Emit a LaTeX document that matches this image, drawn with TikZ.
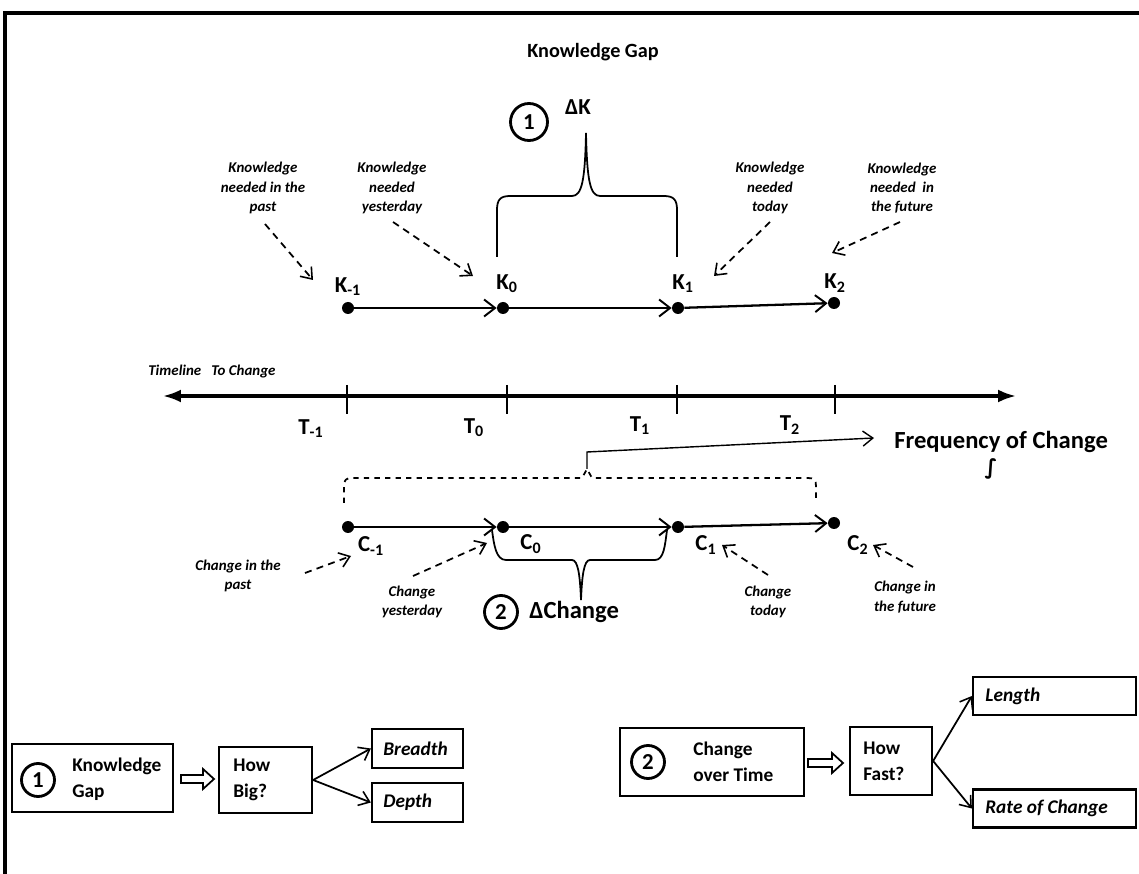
\documentclass[tikz,border=0pt]{standalone}
\usepackage{fontspec}
\setmainfont{Carlito}
\newfontfamily\symfont{DejaVu Sans}
\usetikzlibrary{arrows.meta,calc}
\begin{document}
\begin{tikzpicture}[x=0.02cm,y=-0.02cm,
  dot/.style={circle,fill=black,inner sep=0pt,minimum size=0.24cm},
  lbl/.style={font=\bfseries\fontsize{13}{14}\selectfont,inner sep=0pt},
  note/.style={font=\bfseries\itshape\fontsize{8.5}{11}\selectfont,align=center,inner sep=0pt},
  link/.style={line width=1.3pt,-{Straight Barb[length=2.2mm,width=3.4mm,line width=1.1pt]}},
  hint/.style={line width=1pt,dash pattern=on 4pt off 3pt,-{Straight Barb[length=2mm,width=3mm,line width=0.9pt]}},
  bracepath/.style={line width=1pt},
  numc/.style={circle,draw,line width=1.6pt,minimum size=0.74cm,inner sep=0pt,font=\bfseries\fontsize{13}{14}\selectfont},
  boxnode/.style={draw,line width=1.3pt,inner sep=0pt},
  boxtext/.style={font=\bfseries\fontsize{11}{15}\selectfont,align=left,anchor=west,inner sep=0pt},
  leaftext/.style={font=\bfseries\itshape\fontsize{11}{13}\selectfont,anchor=west,inner sep=0pt},
  thinarrow/.style={line width=1pt,-{Straight Barb[length=2mm,width=3mm,line width=0.9pt]}},
  hollow/.style={line width=1pt,fill=white}]

\useasboundingbox (0,0) rectangle (1139,874);

% outer frame (top and left edges)
\draw[line width=2.4pt] (5,874) -- (5,13) -- (1139,13);

% ---------- knowledge gap ----------
\node[font=\bfseries\fontsize{11.5}{13}\selectfont] (kgap) at (593,52) {Knowledge Gap};
\node[font=\bfseries\fontsize{13}{14}\selectfont] (dk) at (578,107) {ΔK};
\node[numc] (c1top) at (529,122) {1};

% knowledge points
\node[dot] (km1) at (348,308) {};
\node[dot] (k0)  at (503,308) {};
\node[dot] (k1)  at (678,308) {};
\node[dot] (k2)  at (834,303) {};
\draw[link] (km1) -- (k0);
\draw[link] (k0) -- (k1);
\draw[link] (k1) -- (k2);

\node[lbl] (lkm1) at (348,287) {K\textsubscript{-1}};
\node[lbl] (lk0)  at (507,284) {K\textsubscript{0}};
\node[lbl] (lk1)  at (683,284) {K\textsubscript{1}};
\node[lbl] (lk2)  at (835,283) {K\textsubscript{2}};

% brace over K0..K1
\draw[bracepath] (497,257) -- (497,210) .. controls (497,200) and (500,196) .. (510,196)
  -- (572,196) .. controls (582,196) and (585,180) .. (586,133)
  .. controls (587,180) and (590,196) .. (600,196)
  -- (664,196) .. controls (674,196) and (677,200) .. (677,210) -- (677,257);

% knowledge notes
\node[note] (nk1) at (263,188) {Knowledge\\needed in the\\past};
\node[note] (nk2) at (392,188) {Knowledge\\needed\\yesterday};
\node[note] (nk3) at (770,188) {Knowledge\\needed\\today};
\node[note] (nk4) at (902,188) {Knowledge\\needed\ \ in\\the future};
\coordinate (a1s) at (265,224); \coordinate (a1e) at (313,280);
\coordinate (a2s) at (393,222); \coordinate (a2e) at (473,276);
\coordinate (a3s) at (770,222); \coordinate (a3e) at (714,276);
\coordinate (a4s) at (900,222); \coordinate (a4e) at (832,253);
\draw[hint] (a1s) -- (a1e);
\draw[hint] (a2s) -- (a2e);
\draw[hint] (a3s) -- (a3e);
\draw[hint] (a4s) -- (a4e);

% ---------- timeline ----------
\node[font=\bfseries\itshape\fontsize{8.5}{10}\selectfont,anchor=west,inner sep=0pt] (tlabel) at (148,372) {Timeline\ \ \ To Change};
\coordinate (tl) at (163,396);
\coordinate (tr) at (1016,396);
\draw[line width=1.8pt,{Latex[length=3.6mm,width=2.6mm]}-{Latex[length=3.6mm,width=2.6mm]}] (tl) -- (tr);
\foreach \x in {347,507,677,835}{
  \draw[line width=1pt] (\x,385) -- (\x,414);
}
\node[lbl] (tm1) at (311,429) {T\textsubscript{-1}};
\node[lbl] (t0)  at (474,428) {T\textsubscript{0}};
\node[lbl] (t1)  at (640,426) {T\textsubscript{1}};
\node[lbl] (t2)  at (790,425) {T\textsubscript{2}};

% frequency of change
\node[font=\bfseries\fontsize{14}{16}\selectfont,anchor=west,inner sep=0pt] (freq) at (894,442) {Frequency of Change};
\node[font=\symfont\bfseries\fontsize{12}{14}\selectfont,inner sep=0pt] (integ) at (991,469) {∫};
\coordinate (ftip) at (587,469);
\coordinate (fbend) at (587,452);
\coordinate (fend) at (874,438);
\draw[line width=0.8pt,-{Straight Barb[length=2mm,width=3mm,line width=0.8pt]}] (ftip) -- (fbend) -- (fend);

% dashed brace over C-1..C2
\draw[bracepath,dashed] (344,503) -- (344,486) .. controls (344,480) and (346,478) .. (352,478)
  -- (582,478) -- (587,469) -- (592,478)
  -- (808,478) .. controls (814,478) and (816,480) .. (816,486) -- (816,503);

% ---------- change points ----------
\node[dot] (cm1) at (348,527) {};
\node[dot] (c0)  at (503,527) {};
\node[dot] (c1)  at (678,527) {};
\node[dot] (c2)  at (834,523) {};
\draw[link] (cm1) -- (c0);
\draw[link] (c0) -- (c1);
\draw[link] (c1) -- (c2);

\node[lbl] (lcm1) at (371,546) {C\textsubscript{-1}};
\node[lbl] (lc0)  at (531,544) {C\textsubscript{0}};
\node[lbl] (lc1)  at (706,545) {C\textsubscript{1}};
\node[lbl] (lc2)  at (858,545) {C\textsubscript{2}};

% brace under C0..C1
\draw[bracepath] (492,530) .. controls (494,545) and (496,560) .. (506,560)
  -- (572,560) .. controls (578,560) and (580,575) .. (581,600)
  .. controls (582,575) and (584,560) .. (590,560)
  -- (655,560) .. controls (664,560) and (665,545) .. (667,530);

\node[numc,minimum size=0.66cm] (c2num) at (501,612) {2};
\node[font=\bfseries\fontsize{14}{16}\selectfont,anchor=west,inner sep=0pt] (dchange) at (529,612) {ΔChange};

% change notes
\node[note] (nc1) at (238,576) {Change in the\\past};
\node[note] (nc2) at (412,602) {Change\\yesterday};
\node[note] (nc3) at (768,602) {Change\\today};
\node[note] (nc4) at (905,597) {Change in\\the future};
\coordinate (b1s) at (305,573); \coordinate (b1e) at (351,556);
\coordinate (b2s) at (413,576); \coordinate (b2e) at (487,543);
\coordinate (b3s) at (768,575); \coordinate (b3e) at (722,545);
\coordinate (b4s) at (913,567); \coordinate (b4e) at (873,545);
\draw[hint] (b1s) -- (b1e);
\draw[hint] (b2s) -- (b2e);
\draw[hint] (b3s) -- (b3e);
\draw[hint] (b4s) -- (b4e);

% ---------- bottom summary: knowledge gap ----------
\node[boxnode,minimum width=3.22cm,minimum height=1.36cm] (kbox) at (92.5,778) {};
\node[numc,minimum size=0.66cm] (kbnum) at (38,780) {1};
\node[boxtext] (kbtext) at (72,779) {Knowledge\\Gap};
\coordinate (h1) at (181,779);
\draw[hollow] (h1) ++(0,-4) -- ++(22,0) -- ++(0,-6) -- ++(11,10) -- ++(-11,10) -- ++(0,-6) -- ++(-22,0) -- cycle;
\node[boxnode,minimum width=1.86cm,minimum height=1.32cm] (big) at (265.5,780) {};
\node[boxtext] (bigtext) at (233,780) {How\\Big?};
\node[boxnode,minimum width=1.82cm,minimum height=0.78cm] (breadth) at (417.5,748.5) {};
\node[leaftext] at (383,748.5) {Breadth};
\node[boxnode,minimum width=1.82cm,minimum height=0.78cm] (depth) at (417.5,802.5) {};
\node[leaftext] at (383,802.5) {Depth};
\draw[thinarrow] (big.east) -- (breadth.west);
\draw[thinarrow] (big.east) -- (depth.west);

% ---------- bottom summary: change over time ----------
\node[boxnode,minimum width=3.68cm,minimum height=1.36cm] (cbox) at (712,762) {};
\node[numc,minimum size=0.66cm] (cbnum) at (648,762) {2};
\node[boxtext] (cbtext) at (693,762) {Change\\over Time};
\coordinate (h2) at (808,763);
\draw[hollow] (h2) ++(0,-4) -- ++(24,0) -- ++(0,-6) -- ++(11,10) -- ++(-11,10) -- ++(0,-6) -- ++(-24,0) -- cycle;
\node[boxnode,minimum width=1.64cm,minimum height=1.36cm] (fast) at (891,761) {};
\node[boxtext] (fasttext) at (863,761) {How\\Fast?};
\node[boxnode,minimum width=3.26cm,minimum height=0.76cm] (length) at (1054.5,696) {};
\node[leaftext] at (985,696) {Length};
\node[boxnode,minimum width=3.26cm,minimum height=0.76cm] (rate) at (1054.5,808.5) {};
\node[leaftext] at (985,808.5) {Rate of Change};
\draw[thinarrow] (fast.east) -- (length.west);
\draw[thinarrow] (fast.east) -- (rate.west);

\end{tikzpicture}
\end{document}
